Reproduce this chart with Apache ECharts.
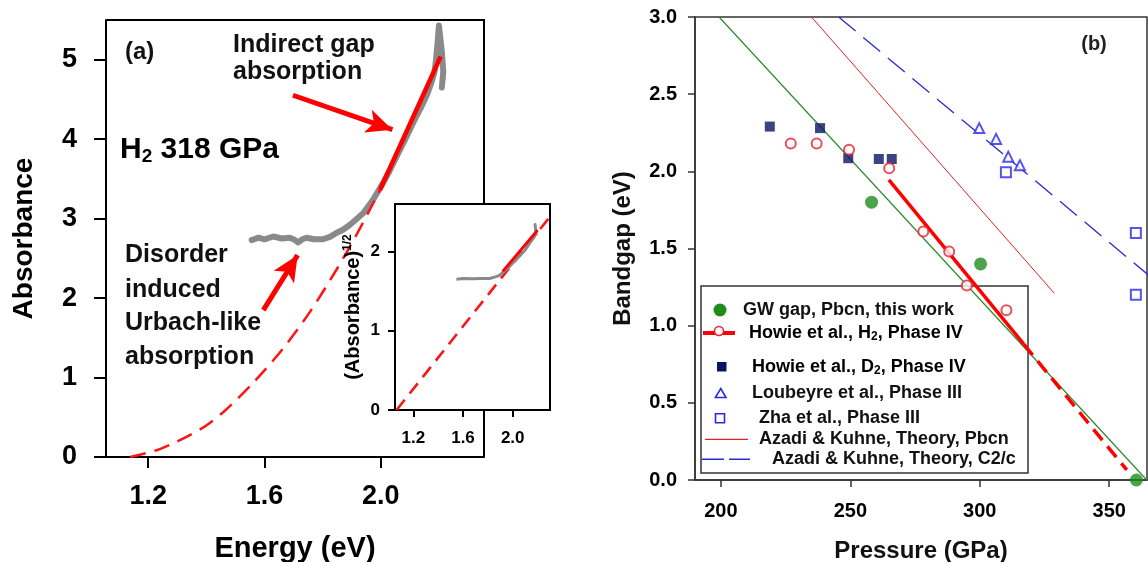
<!DOCTYPE html>
<html><head><meta charset="utf-8">
<script src="https://cdn.jsdelivr.net/npm/echarts@6/dist/echarts.min.js"></script>
<style>html,body{margin:0;padding:0;background:#fff}#c{width:1148px;height:562px}</style>
</head><body><div id="c"></div>
<script>
// ---------- Panel (a): absorbance vs energy ----------
const energyTicks = [1.2, 1.6, 2.0];
const absTicks = [0, 1, 2, 3, 4, 5];
const energyGray = [1.556,1.58,1.60,1.63,1.66,1.687,1.705,1.716,1.73,1.745,1.77,1.80,1.825,1.847,1.87,1.893,1.915,1.94,1.974,2.008,2.03,2.054,2.08,2.10,2.12,2.14,2.16,2.174,2.185,2.19,2.195,2.20,2.21,2.215,2.21];
const absGray    = [2.73,2.76,2.74,2.775,2.75,2.76,2.73,2.70,2.74,2.76,2.74,2.74,2.77,2.82,2.86,2.92,2.99,3.07,3.24,3.45,3.60,3.78,3.97,4.12,4.27,4.41,4.57,4.71,4.85,5.00,5.20,5.43,5.10,4.85,4.65];
const energyFitDash = [1.138,1.24,1.38,1.46,1.56,1.665,1.757,1.848,1.92,1.962,1.997];
const absFitDash    = [0.0,0.10,0.35,0.57,0.93,1.37,1.83,2.36,2.82,3.11,3.36];
const energyFitSolid = [1.997, 2.206];
const absFitSolid    = [3.36, 5.04];
const arrowFromE = [1.698, 1.596];
const arrowFromA = [4.553, 1.849];
const arrowToE   = [2.040, 1.714];
const arrowToA   = [4.120, 2.540];

// ---------- Inset: sqrt(absorbance) ----------
const insetTicksY = [0, 1, 2];
const insetEnergyGray = [1.547,1.60,1.68,1.75,1.814,1.86,1.894,1.93,1.974,2.01,2.054,2.10,2.134,2.17,2.187,2.18,2.19];
const insetSqrtGray   = [1.65,1.66,1.655,1.66,1.66,1.68,1.70,1.75,1.81,1.87,1.94,2.02,2.10,2.18,2.23,2.34,2.20];
const insetEnergyDash = [1.066, 2.30];
const insetSqrtDash   = [0.0, 2.44];
const insetEnergySolid = [1.92, 2.20];
const insetSqrtSolid   = [1.75, 2.27];

// ---------- Panel (b): bandgap vs pressure ----------
const pressureTicks = [200, 250, 300, 350];
const gapTicks = [0, 0.5, 1.0, 1.5, 2.0, 2.5, 3.0];
const gwP = [258.2, 300.3, 360.5];
const gwG = [1.80, 1.40, 0.0];
const gwLineP = [199.3, 364.5];
const gwLineG = [3.0, 0.0];
const h2P = [227, 237, 249.5, 265, 278.2, 288.2, 295, 310.3];
const h2G = [2.18, 2.18, 2.14, 2.02, 1.61, 1.48, 1.26, 1.10];
const h2FitSolidP = [264.9, 317];
const h2FitSolidG = [1.944, 0.88];
const h2FitDashP = [317, 356.8];
const h2FitDashG = [0.88, 0.065];
const d2P = [218.9, 238.3, 249.2, 261, 266];
const d2G = [2.29, 2.28, 2.085, 2.08, 2.08];
const loubeyreP = [299.8, 306.3, 311, 315.5];
const loubeyreG = [2.28, 2.21, 2.095, 2.04];
const zhaP = [310.1, 360.3, 360.3];
const zhaG = [1.994, 1.60, 1.20];
const pbcnP = [235, 328.8];
const pbcnG = [3.0, 1.21];
const c2cP = [245.5, 365];
const c2cG = [3.0, 1.33];

const legendNames = [
  'GW gap, Pbcn, this work',
  '{t|Howie et al., H}{s|2}{t|, Phase IV}',
  '{t|Howie et al., D}{s|2}{t|, Phase IV}',
  'Loubeyre et al., Phase III',
  'Zha et al., Phase III',
  'Azadi & Kuhne, Theory, Pbcn',
  'Azadi & Kuhne, Theory, C2/c'
];

const zip = (xs, ys) => xs.map((x, i) => [x, ys[i]]);
const FF = 'Liberation Sans, Arial, sans-serif';
const RED = '#ff0000';

const chart = echarts.init(document.getElementById('c'), null, {renderer: 'canvas'});

function axisCommon(color, lw, tickLen, fontSize, margin, ticks, fmt) {
  return {
    axisLine: {show: true, onZero: false, lineStyle: {color: color, width: lw}},
    axisTick: {show: true, inside: false, length: tickLen, lineStyle: {color: color, width: lw}, customValues: ticks},
    axisLabel: {customValues: ticks, fontSize: fontSize, fontWeight: 'bold', fontFamily: FF, color: '#000', margin: margin, formatter: fmt},
    splitLine: {show: false}
  };
}

const subRich = (fs, sub) => ({
  t: {fontSize: fs, fontWeight: 'bold', fontFamily: FF, color: '#111', lineHeight: fs + 2},
  s: {fontSize: sub, fontWeight: 'bold', fontFamily: FF, color: '#111', verticalAlign: 'bottom', lineHeight: sub - 4}
});

const option = {
  animation: false,
  backgroundColor: '#fff',
  grid: [
    {left: 106, top: 20, width: 378, height: 437, show: false, containLabel: false, outerBoundsMode: 'none'},
    {left: 395, top: 204, width: 155, height: 206, show: true, backgroundColor: '#fff', borderColor: '#000', borderWidth: 2, z: 5, containLabel: false, outerBoundsMode: 'none'},
    {left: 695, top: 17, width: 452, height: 463, show: true, borderColor: '#333', borderWidth: 1.5, containLabel: false, outerBoundsMode: 'none'}
  ],
  xAxis: [
    Object.assign({type: 'value', gridIndex: 0, min: 1.055, max: 2.355,
      name: 'Energy (eV)', nameLocation: 'middle', nameGap: 77,
      nameTextStyle: {fontSize: 29, fontWeight: 'bold', fontFamily: FF, color: '#000'}},
      axisCommon('#000', 2, 11, 27, 26, energyTicks, v => v.toFixed(1))),
    Object.assign({type: 'value', gridIndex: 1, min: 1.053, max: 2.30, z: 6},
      axisCommon('#000', 2, 7, 17, 20, energyTicks, v => v.toFixed(1))),
    Object.assign({type: 'value', gridIndex: 2, min: 190, max: 364.6,
      name: 'Pressure (GPa)', nameLocation: 'middle', nameGap: 59,
      nameTextStyle: {fontSize: 24, fontWeight: 'bold', fontFamily: FF, color: '#111'}},
      axisCommon('#333', 1.5, 7, 20, 21, pressureTicks, v => String(v)))
  ],
  yAxis: [
    Object.assign({type: 'value', gridIndex: 0, min: 0, max: 5.5,
      name: 'Absorbance', nameLocation: 'middle', nameGap: 68,
      nameTextStyle: {fontSize: 28, fontWeight: 'bold', fontFamily: FF, color: '#000'}},
      axisCommon('#000', 2, 12, 27, 29, absTicks, v => String(v))),
    Object.assign({type: 'value', gridIndex: 1, min: 0, max: 2.6, z: 6,
      name: '{a|(Absorbance)}{s|1/2}', nameLocation: 'middle', nameGap: 31,
      nameTextStyle: {rich: {
        a: {fontSize: 20, fontWeight: 'bold', fontFamily: FF, color: '#000', lineHeight: 22},
        s: {fontSize: 12, fontWeight: 'bold', fontFamily: FF, color: '#000', verticalAlign: 'top', lineHeight: 10}
      }}},
      axisCommon('#000', 2, 7, 17, 15, insetTicksY, v => String(v))),
    Object.assign({type: 'value', gridIndex: 2, min: 0, max: 3.0,
      name: 'Bandgap (eV)', nameLocation: 'middle', nameGap: 60,
      nameTextStyle: {fontSize: 24, fontWeight: 'bold', fontFamily: FF, color: '#111'}},
      axisCommon('#333', 1.5, 7, 20, 18, gapTicks, v => v.toFixed(1)))
  ],
  series: [
    // panel (a)
    {type: 'line', xAxisIndex: 0, yAxisIndex: 0, data: zip(energyGray, absGray), symbol: 'none', silent: true,
     lineStyle: {color: '#8a8a8a', width: 6, join: 'round', cap: 'round'}, z: 2},
    {type: 'line', xAxisIndex: 0, yAxisIndex: 0, data: zip(energyFitDash, absFitDash), symbol: 'none', smooth: 0.3, silent: true,
     lineStyle: {color: '#ff1414', width: 2.5, type: [16, 9]}, z: 2},
    {type: 'line', xAxisIndex: 0, yAxisIndex: 0, data: zip(energyFitSolid, absFitSolid), symbol: 'none', silent: true,
     lineStyle: {color: RED, width: 4.5}, z: 3,
     markLine: {silent: true, symbol: ['none', 'arrow'], symbolSize: [18, 26], label: {show: false},
       lineStyle: {color: RED, width: 5, type: 'solid'},
       data: arrowFromE.map((e, i) => [{coord: [e, arrowFromA[i]]}, {coord: [arrowToE[i], arrowToA[i]]}])}},
    // inset
    {type: 'line', xAxisIndex: 1, yAxisIndex: 1, data: zip(insetEnergyDash, insetSqrtDash), symbol: 'none', silent: true,
     lineStyle: {color: '#ff1414', width: 2.6, type: [13, 8]}, z: 7},
    {type: 'line', xAxisIndex: 1, yAxisIndex: 1, data: zip(insetEnergyGray, insetSqrtGray), symbol: 'none', silent: true,
     lineStyle: {color: '#8a8a8a', width: 3, join: 'round'}, z: 7},
    {type: 'line', xAxisIndex: 1, yAxisIndex: 1, data: zip(insetEnergySolid, insetSqrtSolid), symbol: 'none', silent: true,
     lineStyle: {color: RED, width: 3}, z: 8},
    // panel (b) lines
    {type: 'line', xAxisIndex: 2, yAxisIndex: 2, data: zip(gwLineP, gwLineG), symbol: 'none', silent: true,
     lineStyle: {color: '#2e8b2e', width: 1.2}, z: 2},
    {type: 'line', xAxisIndex: 2, yAxisIndex: 2, data: zip(pbcnP, pbcnG), symbol: 'none', silent: true,
     lineStyle: {color: '#e52020', width: 1}, z: 2},
    {type: 'line', xAxisIndex: 2, yAxisIndex: 2, data: zip(c2cP, c2cG), symbol: 'none', silent: true,
     lineStyle: {color: '#2a2ad0', width: 1.3, type: [22, 10]}, z: 2},
    {type: 'line', xAxisIndex: 2, yAxisIndex: 2, data: zip(h2FitSolidP, h2FitSolidG), symbol: 'none', silent: true,
     lineStyle: {color: RED, width: 3.5}, z: 2},
    {type: 'line', xAxisIndex: 2, yAxisIndex: 2, data: zip(h2FitDashP, h2FitDashG), symbol: 'none', silent: true,
     lineStyle: {color: RED, width: 3.5, type: [14, 8]}, z: 2},
    // panel (b) points
    {type: 'scatter', xAxisIndex: 2, yAxisIndex: 2, data: zip(d2P, d2G), symbol: 'rect', symbolSize: 10,
     itemStyle: {color: '#0b1464'}, z: 3},
    {type: 'scatter', xAxisIndex: 2, yAxisIndex: 2, data: zip(h2P, h2G), symbol: 'emptyCircle', symbolSize: 10,
     itemStyle: {color: '#e8202a', borderWidth: 1.5}, z: 4},
    {type: 'scatter', xAxisIndex: 2, yAxisIndex: 2, data: zip(gwP, gwG), symbol: 'circle', symbolSize: 13,
     itemStyle: {color: '#1e8c1e'}, z: 4},
    {type: 'scatter', xAxisIndex: 2, yAxisIndex: 2, data: zip(loubeyreP, loubeyreG), symbol: 'emptyTriangle', symbolSize: 10,
     itemStyle: {color: '#2a2ae8', borderWidth: 1.5}, z: 4},
    {type: 'scatter', xAxisIndex: 2, yAxisIndex: 2, data: zip(zhaP, zhaG), symbol: 'emptyRect', symbolSize: 10,
     itemStyle: {color: '#2a2ae8', borderWidth: 1.5}, z: 4}
  ],
  graphic: [
    // panel (a) frame top/right (right edge hidden behind inset)
    {type: 'polyline', z: 1, silent: true, shape: {points: [[106, 20], [484, 20], [484, 204]]}, style: {stroke: '#000', lineWidth: 2, fill: null}},
    {type: 'line', z: 1, silent: true, shape: {x1: 484, y1: 410, x2: 484, y2: 457}, style: {stroke: '#000', lineWidth: 2}},
    // panel (a) texts
    {type: 'text', z: 10, x: 125, y: 52, style: {text: '(a)', fontSize: 24, fontWeight: 'bold', fontFamily: FF, fill: '#111', verticalAlign: 'middle'}},
    {type: 'text', z: 10, x: 233, y: 45, style: {text: 'Indirect gap', fontSize: 25, fontWeight: 'bold', fontFamily: FF, fill: '#111', verticalAlign: 'middle'}},
    {type: 'text', z: 10, x: 233, y: 72, style: {text: 'absorption', fontSize: 25, fontWeight: 'bold', fontFamily: FF, fill: '#111', verticalAlign: 'middle'}},
    {type: 'text', z: 10, x: 120, y: 150, style: {text: '{t|H}{s|2}{t| 318 GPa}', verticalAlign: 'middle', rich: subRich(30, 19)}},
    {type: 'text', z: 10, x: 125, y: 255, style: {text: 'Disorder', fontSize: 25, fontWeight: 'bold', fontFamily: FF, fill: '#111', verticalAlign: 'middle'}},
    {type: 'text', z: 10, x: 125, y: 290, style: {text: 'induced', fontSize: 25, fontWeight: 'bold', fontFamily: FF, fill: '#111', verticalAlign: 'middle'}},
    {type: 'text', z: 10, x: 125, y: 323, style: {text: 'Urbach-like', fontSize: 25, fontWeight: 'bold', fontFamily: FF, fill: '#111', verticalAlign: 'middle'}},
    {type: 'text', z: 10, x: 125, y: 357, style: {text: 'absorption', fontSize: 25, fontWeight: 'bold', fontFamily: FF, fill: '#111', verticalAlign: 'middle'}},
    // panel (b) label
    {type: 'text', z: 10, x: 1094, y: 44, style: {text: '(b)', fontSize: 20, fontWeight: 'bold', fontFamily: FF, fill: '#222', align: 'center', verticalAlign: 'middle'}},
    // legend
    {type: 'rect', z: 1, silent: true, shape: {x: 701, y: 286, width: 327, height: 187}, style: {fill: null, stroke: '#333', lineWidth: 1.5}},
    {type: 'circle', z: 10, shape: {cx: 720, cy: 310, r: 6.5}, style: {fill: '#1e8c1e'}},
    {type: 'line', z: 10, shape: {x1: 703, y1: 333, x2: 735, y2: 333}, style: {stroke: RED, lineWidth: 4}},
    {type: 'circle', z: 11, shape: {cx: 719, cy: 331, r: 4.5}, style: {fill: '#fff', stroke: '#e8202a', lineWidth: 1.5}},
    {type: 'rect', z: 10, shape: {x: 717, y: 362, width: 9.5, height: 9.5}, style: {fill: '#0b1464'}},
    {type: 'polygon', z: 10, shape: {points: [[720.7, 388.5], [726, 397.5], [715.4, 397.5]]}, style: {fill: '#fff', stroke: '#2a2ae8', lineWidth: 1.6}},
    {type: 'rect', z: 10, shape: {x: 715.5, y: 413.8, width: 9, height: 9}, style: {fill: '#fff', stroke: '#2a2ae8', lineWidth: 1.6}},
    {type: 'line', z: 10, shape: {x1: 705, y1: 439.3, x2: 748, y2: 439.3}, style: {stroke: '#e52020', lineWidth: 1.2}},
    {type: 'line', z: 10, shape: {x1: 702, y1: 459.3, x2: 750, y2: 459.3}, style: {stroke: '#2a2ad0', lineWidth: 1.6, lineDash: [22, 5]}},
    {type: 'text', z: 10, x: 743, y: 310, style: {text: legendNames[0], fontSize: 18, fontWeight: 'bold', fontFamily: FF, fill: '#111', verticalAlign: 'middle'}},
    {type: 'text', z: 10, x: 749, y: 333, style: {text: legendNames[1], verticalAlign: 'middle', rich: subRich(18, 12)}},
    {type: 'text', z: 10, x: 752, y: 367, style: {text: legendNames[2], verticalAlign: 'middle', rich: subRich(18, 12)}},
    {type: 'text', z: 10, x: 752, y: 393, style: {text: legendNames[3], fontSize: 18, fontWeight: 'bold', fontFamily: FF, fill: '#111', verticalAlign: 'middle'}},
    {type: 'text', z: 10, x: 759, y: 418, style: {text: legendNames[4], fontSize: 18, fontWeight: 'bold', fontFamily: FF, fill: '#111', verticalAlign: 'middle'}},
    {type: 'text', z: 10, x: 759, y: 439, style: {text: legendNames[5], fontSize: 18, fontWeight: 'bold', fontFamily: FF, fill: '#111', verticalAlign: 'middle'}},
    {type: 'text', z: 10, x: 772, y: 459, style: {text: legendNames[6], fontSize: 18, fontWeight: 'bold', fontFamily: FF, fill: '#111', verticalAlign: 'middle'}}
  ]
};
chart.setOption(option);
</script></body></html>
